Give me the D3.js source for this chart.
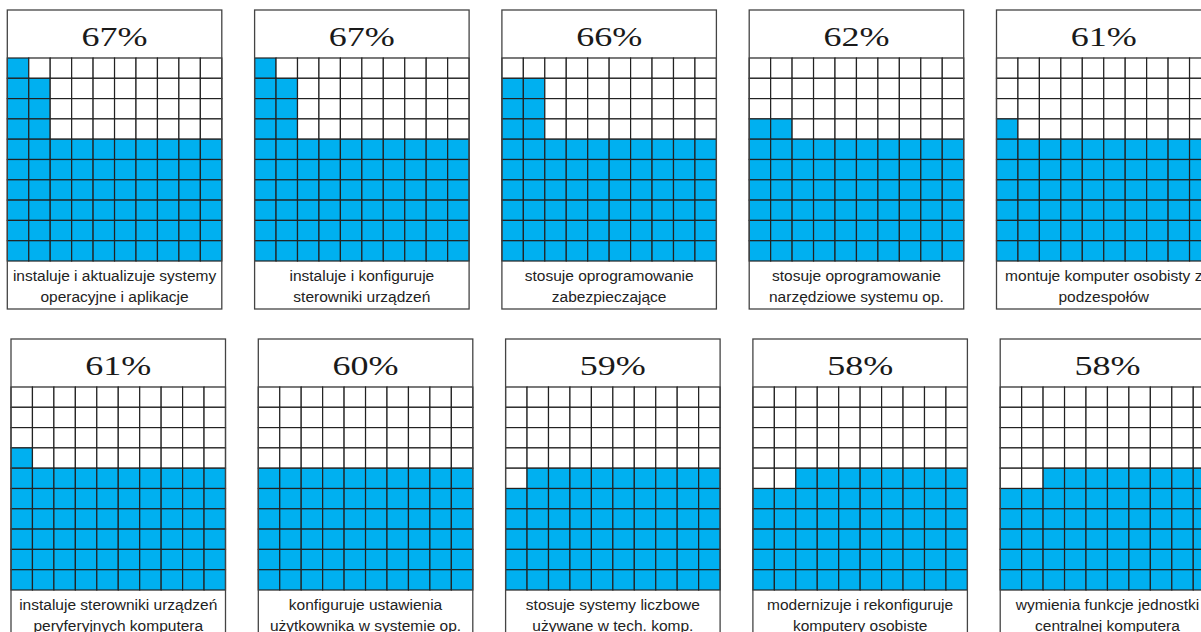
<!DOCTYPE html>
<html>
<head>
<meta charset="utf-8">
<script src="https://cdn.jsdelivr.net/npm/d3@7"></script>
<style>
  html, body { margin: 0; padding: 0; background: #fff; overflow: hidden; }
  svg { display: block; }
</style>
</head>
<body>
<svg id="chart" width="1201" height="632"></svg>
<script>
// ---- data ----
const values = [67, 67, 66, 62, 61, 61, 60, 59, 58, 58];
const labelLine1 = [
  "instaluje i aktualizuje systemy",
  "instaluje i konfiguruje",
  "stosuje oprogramowanie",
  "stosuje oprogramowanie",
  "montuje komputer osobisty z",
  "instaluje sterowniki urządzeń",
  "konfiguruje ustawienia",
  "stosuje systemy liczbowe",
  "modernizuje i rekonfiguruje",
  "wymienia funkcje jednostki"
];
const labelLine2 = [
  "operacyjne i aplikacje",
  "sterowniki urządzeń",
  "zabezpieczające",
  "narzędziowe systemu op.",
  "podzespołów",
  "peryferyjnych komputera",
  "użytkownika w systemie op.",
  "używane w tech. komp.",
  "komputery osobiste",
  "centralnej komputera"
];
// cells of the partial band above the full rows, keyed by remainder (value % 10):
// [rows above the full block (1 = first row above), column]
const partialPattern = {
  0: [],
  1: [[1, 0]],
  2: [[1, 0], [1, 1]],
  6: [[1, 0], [2, 0], [3, 0], [1, 1], [2, 1], [3, 1]],
  7: [[1, 0], [2, 0], [3, 0], [4, 0], [1, 1], [2, 1], [3, 1]],
  8: [[1, 2], [1, 3], [1, 4], [1, 5], [1, 6], [1, 7], [1, 8], [1, 9]],
  9: [[1, 1], [1, 2], [1, 3], [1, 4], [1, 5], [1, 6], [1, 7], [1, 8], [1, 9]]
};
const gridN = 10;

// ---- layout ----
const panelW = 214.5, titleH = 48, gridH = 203, labelH = 48;
const perRow = 5;
const x0 = 7.3, stepX = 247.3, rowShiftX = 3.7, y0 = 10, stepY = 329;
const blue = "#00B0F0";

const svg = d3.select("#chart");
const xCell = d3.scaleBand().domain(d3.range(gridN)).range([0, panelW]);
const yCell = d3.scaleBand().domain(d3.range(gridN)).range([0, gridH]);

values.forEach((v, i) => {
  const r = Math.floor(i / perRow), c = i % perRow;
  const px = x0 + r * rowShiftX + c * stepX;
  const py = y0 + r * stepY;
  const g = svg.append("g").attr("transform", `translate(${px},${py})`);

  // which cells are filled
  const fullRows = Math.floor(v / 10);
  const rem = v % 10;
  const filled = new Set();
  for (let row = gridN - fullRows; row < gridN; row++)
    for (let col = 0; col < gridN; col++) filled.add(row * gridN + col);
  (partialPattern[rem] || []).forEach(([up, col]) => {
    const row = gridN - fullRows - up;
    filled.add(row * gridN + col);
  });

  // panel background
  g.append("rect").attr("x", 0).attr("y", 0)
    .attr("width", panelW).attr("height", titleH + gridH + labelH)
    .attr("fill", "#fff");

  const cells = [];
  for (let row = 0; row < gridN; row++)
    for (let col = 0; col < gridN; col++)
      cells.push({ row, col, on: filled.has(row * gridN + col) });

  const gg = g.append("g").attr("transform", `translate(0,${titleH})`);
  gg.selectAll("rect").data(cells).join("rect")
    .attr("x", d => xCell(d.col))
    .attr("y", d => yCell(d.row))
    .attr("width", xCell.bandwidth())
    .attr("height", yCell.bandwidth())
    .attr("fill", d => d.on ? blue : "#fff")
    .attr("stroke", "#222")
    .attr("stroke-width", 1.2);

  // outer frame
  g.append("rect").attr("x", 0).attr("y", 0)
    .attr("width", panelW).attr("height", titleH + gridH + labelH)
    .attr("fill", "none").attr("stroke", "#444").attr("stroke-width", 1.3);

  // title
  g.append("text")
    .attr("x", panelW / 2).attr("y", 35.5)
    .attr("text-anchor", "middle")
    .attr("font-family", "'Liberation Serif', 'Times New Roman', serif")
    .attr("font-size", 28)
    .attr("textLength", 66)
    .attr("lengthAdjust", "spacingAndGlyphs")
    .attr("fill", "#1a1a1a")
    .text(v + "%");

  // label
  const lt = g.append("text")
    .attr("text-anchor", "middle")
    .attr("font-family", "'Liberation Sans', Arial, sans-serif")
    .attr("font-size", 15.5)
    .attr("fill", "#222");
  lt.append("tspan").attr("x", panelW / 2).attr("y", titleH + gridH + 19.5).text(labelLine1[i]);
  lt.append("tspan").attr("x", panelW / 2).attr("y", titleH + gridH + 40.5).text(labelLine2[i]);
});
</script>
</body>
</html>
